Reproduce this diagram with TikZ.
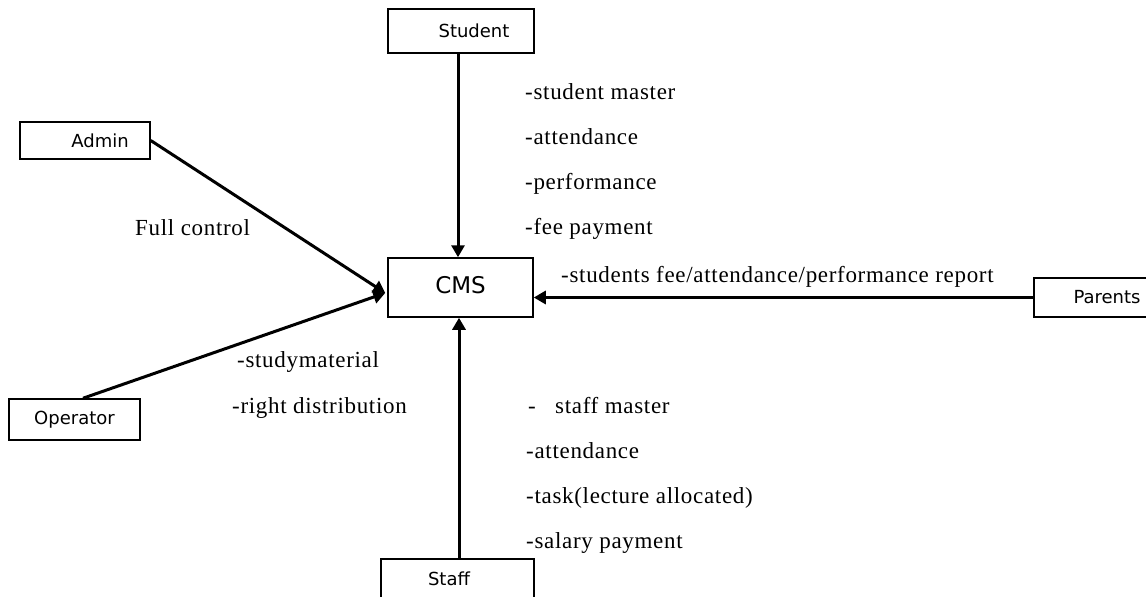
\documentclass[tikz,border=0pt]{standalone}
\usepackage{fontspec}
\setmainfont{Liberation Serif}
\newfontfamily\lblfont[LetterSpace=3]{Liberation Serif}
\newfontfamily\boxfont{DejaVu Sans}
\usetikzlibrary{arrows.meta,calc}
\begin{document}
\begin{tikzpicture}[x=1pt,y=1pt,
 box/.style={draw=black,line width=1.5pt,rectangle,inner sep=0pt,font=\boxfont\fontsize{18}{21}\selectfont},
 flow/.style={line width=3pt,-{Triangle[length=12pt,width=13pt]}},
 txt/.style={anchor=base west,inner sep=0pt,font=\lblfont\fontsize{23}{27}\selectfont}]
\clip (0,0) rectangle (1146,-597);
\fill[white] (0,0) rectangle (1146,-597);
% boxes
\node[box,minimum width=146pt,minimum height=44pt] (student) at (461,-31) {\hspace*{26pt}Student};
\node[box,minimum width=130pt,minimum height=37pt] (admin) at (85,-140.5) {\hspace*{30pt}Admin};
\node[box,minimum width=145pt,minimum height=59pt,font=\boxfont\fontsize{23}{26}\selectfont] (cms) at (460.5,-287.5) {\raisebox{5pt}{CMS}};
\node[box,minimum width=150pt,minimum height=39pt] (parents) at (1109,-297.5) {\hspace*{-4pt}Parents};
\node[box,minimum width=131pt,minimum height=41pt] (operator) at (74.5,-419.5) {Operator};
\node[box,minimum width=153pt,minimum height=40pt] (staff) at (457.5,-579) {Staff\hspace*{17pt}};
% connector end points
\coordinate (cmsleft) at ($(cms.west)+(-2,-5.5)$);
\coordinate (opstart) at ($(operator.north)+(8.5,0)$);
% connectors
\draw[flow] ([xshift=-3pt]student.south) -- ([xshift=-3pt]student.south |- cms.north);
\draw[flow] ([xshift=1.5pt]staff.north) -- ([xshift=1.5pt]staff.north |- cms.south);
\draw[flow] (parents.west) -- (parents.west -| cms.east);
\draw[flow] (admin.east) -- (cmsleft);
\draw[flow] (opstart) -- (cmsleft);
% labels
\node[txt] (l1) at (525,-99) {-student master};
\node[txt] (l2) at (525,-144) {-attendance};
\node[txt] (l3) at (525,-189) {-performance};
\node[txt] (l4) at (525,-234) {-fee payment};
\node[txt] (l5) at (561,-282) {-students fee/attendance/performance report};
\node[txt] (l6) at (135,-235) {Full control};
\node[txt] (l7) at (237,-367) {-studymaterial};
\node[txt] (l8) at (232,-413) {-right distribution};
\node[txt] (l9) at (528,-413) {-~~~staff master};
\node[txt] (l10) at (526,-458) {-attendance};
\node[txt] (l11) at (526,-503) {-task(lecture allocated)};
\node[txt] (l12) at (526,-548) {-salary payment};
\end{tikzpicture}
\end{document}
